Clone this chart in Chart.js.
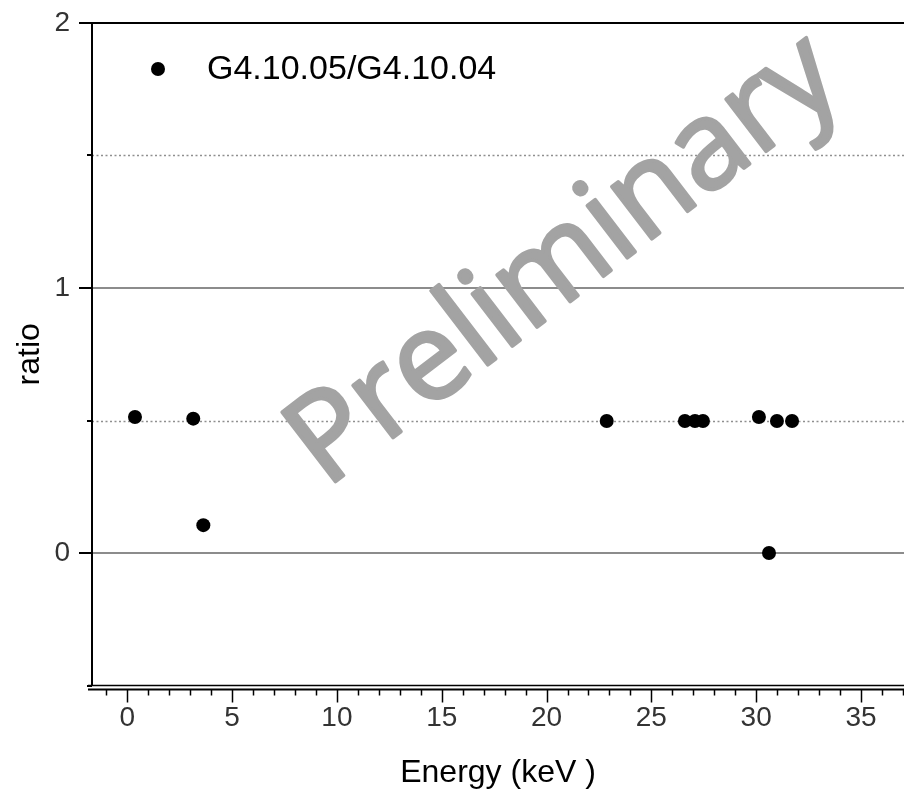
<!DOCTYPE html>
<html>
<head>
<meta charset="utf-8">
<script src="https://cdn.jsdelivr.net/npm/chart.js@4"></script>
<style>
  html, body { margin: 0; padding: 0; background: #fff; }
  #wrap { width: 904px; height: 793px; }
</style>
</head>
<body>
<div id="wrap"><canvas id="chart" width="904" height="793"></canvas></div>
<script>
// ratio of the two Geant4 versions, per energy line
const seriesLabel = 'G4.10.05/G4.10.04'
const energy = [0.37, 3.15, 3.63, 22.87, 26.6, 27.08, 27.46, 30.13, 30.99, 31.71, 30.61]
const ratio = [0.513, 0.507, 0.105, 0.498, 0.498, 0.498, 0.498, 0.513, 0.498, 0.498, 0.0]

const xTicks = [0, 5, 10, 15, 20, 25, 30, 35]
const xMinorStep = 1
const yTicks = [0, 1, 2]
const yMinorTicks = [-0.5, 0.5, 1.5]
const ySolidGrid = [0, 1]
const yDottedGrid = [0.5, 1.5]
const xRange = [-1.68, 37.05]
const yRange = [-0.5, 2]

const FONT = '"Liberation Sans", Arial, sans-serif'

const framePlugin = {
    id: 'frame',
    beforeDatasetsDraw(chart) {
        const {ctx, chartArea} = chart
        const xs = chart.scales.x
        const ys = chart.scales.y
        const {left, right, top, bottom} = chartArea
        ctx.save()
        // grid lines
        ctx.strokeStyle = '#8c8c8c'
        ctx.lineWidth = 2
        ySolidGrid.forEach(v => {
            const y = Math.round(ys.getPixelForValue(v))
            ctx.beginPath()
            ctx.moveTo(left, y)
            ctx.lineTo(right, y)
            ctx.stroke()
        })
        ctx.strokeStyle = '#8f8f8f'
        ctx.lineWidth = 1.5
        ctx.setLineDash([2, 2.5])
        yDottedGrid.forEach(v => {
            const y = Math.round(ys.getPixelForValue(v)) + 0.5
            ctx.beginPath()
            ctx.moveTo(left, y)
            ctx.lineTo(right, y)
            ctx.stroke()
        })
        ctx.setLineDash([])

        // frame
        ctx.strokeStyle = '#000'
        ctx.lineWidth = 2
        ctx.beginPath()
        ctx.moveTo(left, top)
        ctx.lineTo(right, top)
        ctx.moveTo(left, top)
        ctx.lineTo(left, bottom)
        ctx.stroke()
        ctx.lineWidth = 1.5
        ctx.beginPath()
        ctx.moveTo(left - 4, bottom)
        ctx.lineTo(right, bottom)
        ctx.stroke()

        // y ticks
        ctx.lineWidth = 2
        yTicks.forEach(v => {
            const y = Math.round(ys.getPixelForValue(v))
            ctx.beginPath()
            ctx.moveTo(left - 13, y)
            ctx.lineTo(left, y)
            ctx.stroke()
        })
        yMinorTicks.forEach(v => {
            const y = Math.round(ys.getPixelForValue(v))
            ctx.beginPath()
            ctx.moveTo(left - 5, y)
            ctx.lineTo(left, y)
            ctx.stroke()
        })

        // separate x axis line below the plot box
        const axisY = bottom + 4
        ctx.lineWidth = 2
        ctx.beginPath()
        ctx.moveTo(left - 4, axisY)
        ctx.lineTo(right, axisY)
        ctx.stroke()
        ctx.lineWidth = 1.5
        for (let v = Math.ceil(xRange[0]); v <= xRange[1]; v += xMinorStep) {
            const x = Math.round(xs.getPixelForValue(v)) + 0.5
            const major = xTicks.includes(v)
            ctx.beginPath()
            ctx.moveTo(x, axisY)
            ctx.lineTo(x, axisY + (major ? 13 : 6))
            ctx.stroke()
        }
        ctx.restore()
    },
    afterDraw(chart) {
        const {ctx} = chart
        ctx.save()
        // legend
        ctx.fillStyle = '#000'
        ctx.beginPath()
        ctx.arc(158, 69, 7, 0, Math.PI * 2)
        ctx.fill()
        ctx.font = '34px ' + FONT
        ctx.textBaseline = 'middle'
        ctx.textAlign = 'left'
        ctx.fillText(chart.data.datasets[0].label, 207, 70)

        // watermark
        ctx.translate(326, 489)
        ctx.rotate(-37.5 * Math.PI / 180)
        ctx.font = '123px "Open Sans", "DejaVu Sans", sans-serif'
        ctx.textBaseline = 'alphabetic'
        ctx.fillStyle = '#a3a3a3'
        ctx.strokeStyle = '#a3a3a3'
        ctx.lineWidth = 3.5
        ctx.lineJoin = 'round'
        ctx.fillText('Preliminary', 0, 0)
        ctx.strokeText('Preliminary', 0, 0)
        ctx.restore()
    }
}

new Chart(document.getElementById('chart'), {
    type: 'scatter',
    data: {
        datasets: [{
            label: seriesLabel,
            data: energy.map((e, i) => ({x: e, y: ratio[i]})),
            backgroundColor: '#000',
            borderColor: '#000',
            pointRadius: 7,
            pointHoverRadius: 7,
            borderWidth: 0
        }]
    },
    options: {
        responsive: false,
        animation: false,
        layout: {autoPadding: false, padding: {top: 23, left: 0, right: 0, bottom: 0}},
        plugins: {legend: {display: false}, tooltip: {enabled: false}},
        scales: {
            x: {
                type: 'linear',
                min: xRange[0],
                max: xRange[1],
                grid: {display: false, drawTicks: false},
                border: {display: false},
                afterBuildTicks: scale => { scale.ticks = xTicks.map(v => ({value: v})) },
                afterFit: scale => {
                    scale.height = 107.5
                    scale.paddingLeft = 0
                    scale.paddingRight = 0
                },
                ticks: {
                    padding: 16,
                    color: '#333',
                    font: {family: FONT, size: 28},
                    maxRotation: 0
                },
                title: {
                    display: true,
                    text: 'Energy (keV )',
                    color: '#000',
                    font: {family: FONT, size: 32},
                    padding: {top: 0, bottom: 1}
                }
            },
            y: {
                type: 'linear',
                min: yRange[0],
                max: yRange[1],
                grid: {display: false, drawTicks: false},
                border: {display: false},
                afterBuildTicks: scale => { scale.ticks = yTicks.map(v => ({value: v})) },
                afterFit: scale => {
                    scale.width = 92
                    scale.paddingTop = 0
                    scale.paddingBottom = 0
                },
                ticks: {
                    padding: 22,
                    color: '#333',
                    font: {family: FONT, size: 28}
                },
                title: {
                    display: true,
                    text: 'ratio',
                    color: '#000',
                    font: {family: FONT, size: 32},
                    padding: {top: 11, bottom: 0}
                }
            }
        }
    },
    plugins: [framePlugin]
})
</script>
</body>
</html>
